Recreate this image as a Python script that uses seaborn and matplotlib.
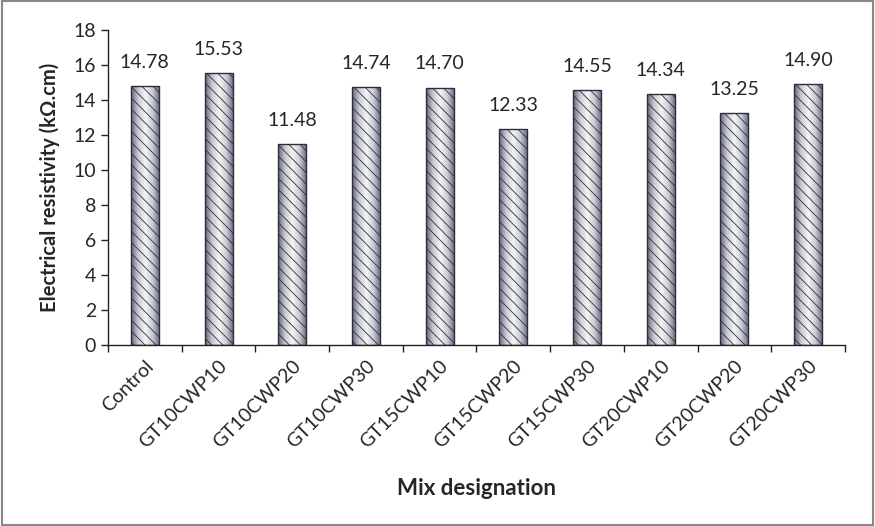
import numpy as np
import pandas as pd
import matplotlib
matplotlib.use("Agg")
import matplotlib.pyplot as plt
import seaborn as sns
from matplotlib.colors import LinearSegmentedColormap

# data
mixes = ["Control", "GT10CWP10", "GT10CWP20", "GT10CWP30", "GT15CWP10",
         "GT15CWP20", "GT15CWP30", "GT20CWP10", "GT20CWP20", "GT20CWP30"]
resistivity = [14.78, 15.53, 11.48, 14.74, 14.70, 12.33, 14.55, 14.34, 13.25, 14.90]
y_ticks = [0, 2, 4, 6, 8, 10, 12, 14, 16, 18]

df = pd.DataFrame({"mix": mixes, "value": resistivity})

sns.set_style("white")
plt.rcParams['font.family'] = ['Lato', 'DejaVu Sans']
plt.rcParams['hatch.color'] = '#4a4a4a'
plt.rcParams['hatch.linewidth'] = 0.6

fig = plt.figure(figsize=(8.75, 5.26), dpi=100)
ax = fig.add_axes([0.1234, 0.344, 0.8423, 0.599])

sns.barplot(data=df, x="mix", y="value", ax=ax, width=0.38,
            color="#c8c8d0", edgecolor="#2e2e3a", linewidth=1.0)

# gradient fill (dark edges, light centre) + hatch on top
cmap = LinearSegmentedColormap.from_list("bar", ["#5f6577", "#c9cbd2", "#f4f4f4", "#c9cbd2", "#5f6577"])
grad = np.linspace(0, 1, 256).reshape(1, -1)
for p in ax.patches:
    x0, y0 = p.get_x(), p.get_y()
    w, h = p.get_width(), p.get_height()
    p.set_facecolor("none")
    p.set_hatch("\\\\\\")
    p.set_zorder(3)
    im = ax.imshow(grad, extent=[x0, x0 + w, y0, y0 + h], aspect="auto",
                   cmap=cmap, zorder=2)
    im.set_clip_path(p)

ax.set_xlim(-0.5, len(mixes) - 0.5)
ax.set_ylim(0, 18)
ax.set_yticks(y_ticks)
ax.tick_params(axis="y", labelsize=14, direction="out", length=5, width=1, left=True, color="#222")

# category boundaries as major ticks, labels at centres
ax.set_xticks(np.arange(len(mixes) + 1) - 0.5)
ax.set_xticklabels([])
ax.set_xticks(np.arange(len(mixes)), minor=True)
ax.set_xticklabels(mixes, minor=True, rotation=45, ha="right", rotation_mode="anchor", fontsize=14)
ax.tick_params(axis="x", which="major", direction="out", length=5, width=1, bottom=True, color="#222")
ax.tick_params(axis="x", which="minor", length=0, pad=9)

for s in ["top", "right"]:
    ax.spines[s].set_visible(False)
for s in ["left", "bottom"]:
    ax.spines[s].set_color("#222")
    ax.spines[s].set_linewidth(1)

for i, v in enumerate(resistivity):
    ax.annotate(f"{v:.2f}", (i, v), xytext=(0, 11), textcoords="offset points",
                ha="center", va="bottom", fontsize=14)

ax.set_xlabel("Mix designation", fontsize=16, fontweight="bold", labelpad=19)
ax.set_ylabel("Electrical resistivity (kΩ.cm)", fontsize=14.5, fontweight="bold", labelpad=10)

fig.patches.append(plt.Rectangle((0.002, 0.002), 0.996, 0.996, transform=fig.transFigure,
                                 fill=False, edgecolor="#888888", linewidth=1.5))

fig.savefig("out.png", dpi=100)
